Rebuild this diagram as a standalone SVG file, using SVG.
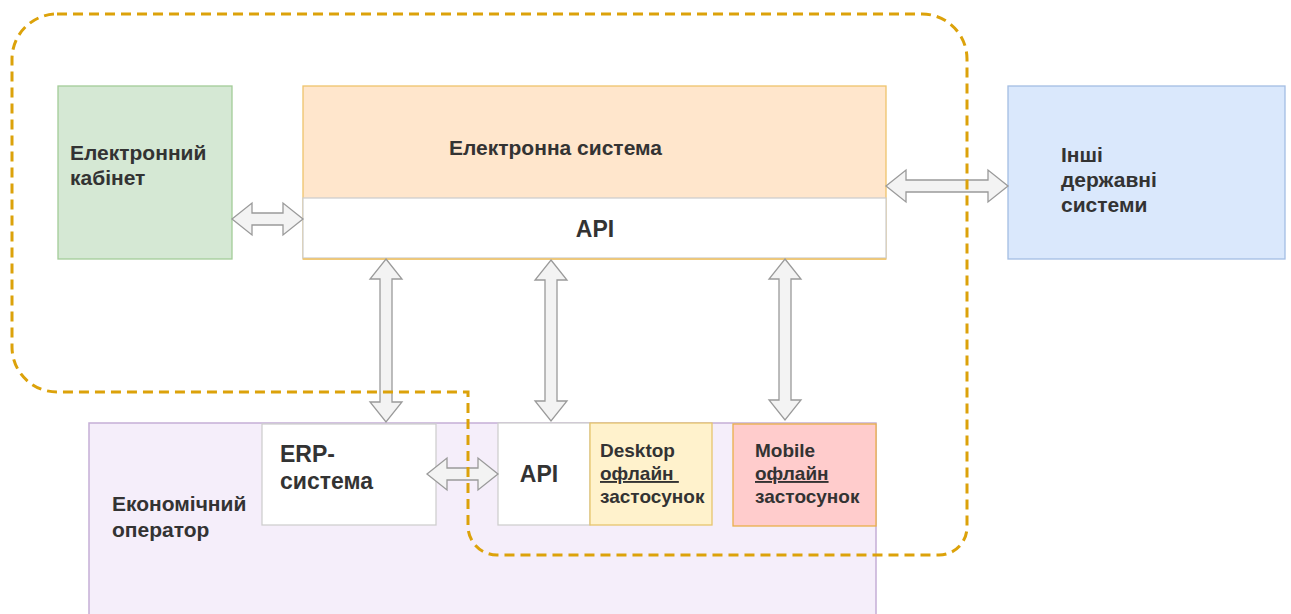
<svg xmlns="http://www.w3.org/2000/svg" width="1291" height="614" viewBox="0 0 1291 614">
<style>
.t{font-family:"Liberation Sans",Arial,sans-serif;font-weight:bold;font-size:21px;fill:#333}
.api{font-size:23px}
.erp{font-size:23px}
.sm{font-size:19px}
.arr{fill:#f3f3f3;stroke:#9a9a9a;stroke-width:1.3}
.u{text-decoration:underline}
</style>
<rect width="1291" height="614" fill="#ffffff"/>
<g id="operator">
<rect x="89" y="423" width="787" height="200" fill="#f5eefa" stroke="#c5aed6" stroke-width="1.5"/>
<text class="t" x="112" y="511">Економічний</text>
<text class="t" x="112" y="537">оператор</text>
</g>
<g id="cabinet">
<rect x="58" y="86" width="174" height="173" fill="#d5e8d4" stroke="#a3cc98" stroke-width="1.3"/>
<text class="t" x="70" y="160">Електронний</text>
<text class="t" x="70" y="185">кабінет</text>
</g>
<g id="esystem">
<rect x="303" y="86" width="583" height="173" fill="#ffe6cc" stroke="#efc46c" stroke-width="1.3"/>
<text class="t" x="449" y="155">Електронна система</text>
</g>
<g id="esystem-api">
<rect x="303" y="198" width="583" height="60" fill="#ffffff" stroke="#cfcfcf" stroke-width="1.3"/>
<line x1="303" y1="259" x2="886" y2="259" stroke="#efc46c" stroke-width="1.3"/>
<text class="t api" x="595" y="237" text-anchor="middle">API</text>
</g>
<g id="other">
<rect x="1008" y="86" width="277" height="173" fill="#dae8fc" stroke="#a4bde3" stroke-width="1.3"/>
<text class="t" x="1061" y="162">Інші</text>
<text class="t" x="1061" y="187">державні</text>
<text class="t" x="1061" y="212">системи</text>
</g>
<g id="erp">
<rect x="262" y="424" width="174" height="101" fill="#ffffff" stroke="#cfcfcf" stroke-width="1.3"/>
<text class="t erp" x="280" y="462">ERP-</text>
<text class="t erp" x="280" y="489">система</text>
</g>
<g id="op-api">
<rect x="498" y="423" width="92" height="102" fill="#ffffff" stroke="#cfcfcf" stroke-width="1.3"/>
<text class="t api" x="539" y="482" text-anchor="middle">API</text>
</g>
<g id="desktop">
<rect x="590" y="423" width="122" height="102" fill="#fff2cc" stroke="#e6c56e" stroke-width="1.3"/>
<text class="t sm" x="600" y="457">Desktop</text>
<text class="t sm u" x="600" y="480" xml:space="preserve">офлайн </text>
<text class="t sm" x="600" y="503">застосунок</text>
</g>
<g id="mobile">
<rect x="733" y="424" width="143" height="102" fill="#ffcccc" stroke="#eab04a" stroke-width="1.3"/>
<text class="t sm" x="755" y="457">Mobile</text>
<text class="t sm u" x="755" y="480">офлайн</text>
<text class="t sm" x="755" y="503">застосунок</text>
</g>
<g id="connectors">
<path class="arr" d="M232,219 L252,203 L252,213 L283,213 L283,203 L303,219 L283,235 L283,225 L252,225 L252,235 Z"/>
<path class="arr" d="M886,186 L906,170 L906,180 L988,180 L988,170 L1008,186 L988,202 L988,192 L906,192 L906,202 Z"/>
<path class="arr" d="M427,474 L447,458 L447,468 L478,468 L478,458 L498,474 L478,490 L478,480 L447,480 L447,490 Z"/>
<path class="arr" d="M386,259 L402,279 L392,279 L392,402 L402,402 L386,422 L370,402 L380,402 L380,279 L370,279 Z"/>
<path class="arr" d="M551,260 L567,280 L557,280 L557,401 L567,401 L551,421 L535,401 L545,401 L545,280 L535,280 Z"/>
<path class="arr" d="M785,259 L801,279 L791,279 L791,400 L801,400 L785,420 L769,400 L779,400 L779,279 L769,279 Z"/>
</g>
<g id="boundary">
<path d="M57,14 H922 A45,45 0 0 1 967,59 V527 A28,28 0 0 1 939,555 H497 A29,29 0 0 1 468,526 V392 H57 A45,45 0 0 1 12,347 V59 A45,45 0 0 1 57,14 Z" fill="none" stroke="#dca20a" stroke-width="3" stroke-dasharray="10 6"/>
</g>
</svg>
